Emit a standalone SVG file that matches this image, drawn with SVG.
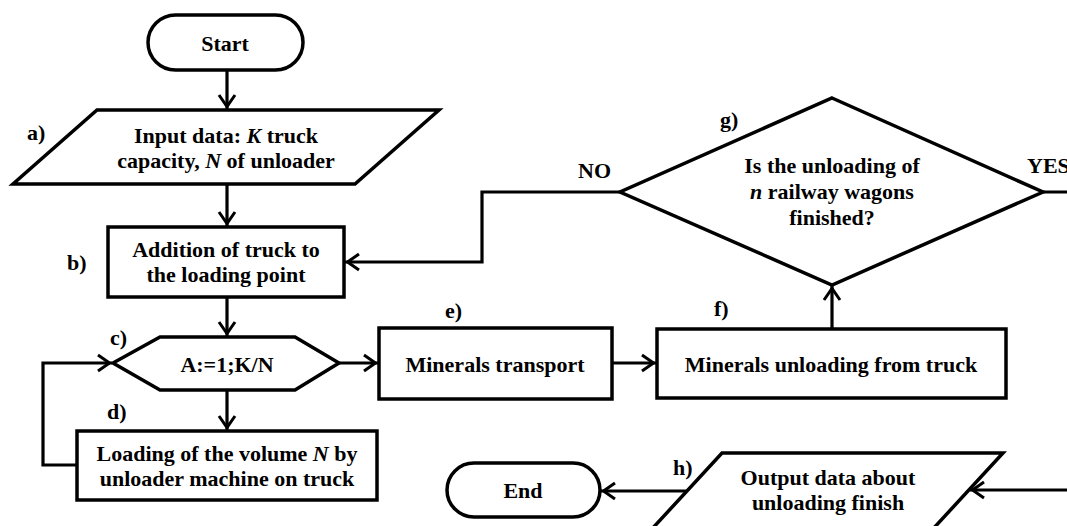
<svg xmlns="http://www.w3.org/2000/svg" width="1067" height="526" viewBox="0 0 1067 526">
<style>
.s{fill:#fff;stroke:#000;stroke-width:3.5;stroke-linejoin:miter}
.c{fill:none;stroke:#000;stroke-width:3.2}
text{font-family:"Liberation Serif","Times New Roman",serif;font-weight:bold;font-size:22px;fill:#000}
.m{text-anchor:middle}
</style>
<defs>
<marker id="ah" markerUnits="userSpaceOnUse" viewBox="-18 -11 20 22" refX="0" refY="0" markerWidth="20" markerHeight="22" orient="auto">
<path d="M-14,-8 L-2.5,0 L-14,8" fill="none" stroke="#000" stroke-width="3"/>
</marker>
</defs>
<rect width="1067" height="526" fill="#fff"/>
<g id="connectors">
<path class="c" d="M227,70 L227,109" marker-end="url(#ah)"/>
<path class="c" d="M227,184 L227,226" marker-end="url(#ah)"/>
<path class="c" d="M227,297 L227,336" marker-end="url(#ah)"/>
<path class="c" d="M227,390 L227,430" marker-end="url(#ah)"/>
<path class="c" d="M77,465 L43,465 L43,363 L112,363" marker-end="url(#ah)"/>
<path class="c" d="M339,363 L378,363" marker-end="url(#ah)"/>
<path class="c" d="M612,363 L656,363" marker-end="url(#ah)"/>
<path class="c" d="M832,329 L832,286" marker-end="url(#ah)"/>
<path class="c" d="M620,192 L482,192 L482,262 L345,262" marker-end="url(#ah)"/>
<path class="c" d="M1043,192 L1090,192 L1090,490 L970,490" marker-end="url(#ah)"/>
<path class="c" d="M686,491 L601,491" marker-end="url(#ah)"/>
</g>
<g id="start">
<rect class="s" x="148" y="15" width="155" height="55" rx="27.5"/>
<text class="m" x="225" y="51">Start</text>
</g>
<g id="a">
<polygon class="s" points="97,110 439,110 355,184 13,184"/>
<text x="27" y="140">a)</text>
<text class="m" x="226" y="143">Input data: <tspan font-style="italic">K</tspan> truck</text>
<text class="m" x="226" y="168">capacity, <tspan font-style="italic">N</tspan> of unloader</text>
</g>
<g id="b">
<rect class="s" x="108" y="227" width="236" height="70"/>
<text x="67" y="270">b)</text>
<text class="m" x="226" y="257">Addition of truck to</text>
<text class="m" x="226" y="282">the loading point</text>
</g>
<g id="c">
<polygon class="s" points="113,363 160,337 295,337 339,363 295,390 160,390"/>
<text x="110" y="345">c)</text>
<text class="m" x="227" y="372">A:=1;K/N</text>
</g>
<g id="d">
<rect class="s" x="77" y="431" width="300" height="69"/>
<text x="107" y="419">d)</text>
<text class="m" x="227" y="461">Loading of the volume <tspan font-style="italic">N</tspan> by</text>
<text class="m" x="227" y="486">unloader machine on truck</text>
</g>
<g id="e">
<rect class="s" x="379" y="328" width="233" height="71"/>
<text x="445" y="318">e)</text>
<text class="m" x="495" y="372">Minerals transport</text>
</g>
<g id="f">
<rect class="s" x="657" y="329" width="349" height="69"/>
<text x="714" y="316">f)</text>
<text class="m" x="831" y="372">Minerals unloading from truck</text>
</g>
<g id="g">
<polygon class="s" points="832,98 1043,192 832,285 620,192"/>
<text x="720" y="127">g)</text>
<text class="m" x="832" y="173">Is the unloading of</text>
<text class="m" x="832" y="199"><tspan font-style="italic">n</tspan> railway wagons</text>
<text class="m" x="832" y="225">finished?</text>
<text x="578" y="178">NO</text>
<text x="1027" y="173">YES</text>
</g>
<g id="h">
<polygon class="s" points="722,453 1003,453 932,530 651,530"/>
<text x="673" y="475">h)</text>
<text class="m" x="828" y="485">Output data about</text>
<text class="m" x="828" y="510">unloading finish</text>
</g>
<g id="end">
<rect class="s" x="447" y="463" width="153" height="54" rx="27"/>
<text class="m" x="523" y="498">End</text>
</g>
</svg>
